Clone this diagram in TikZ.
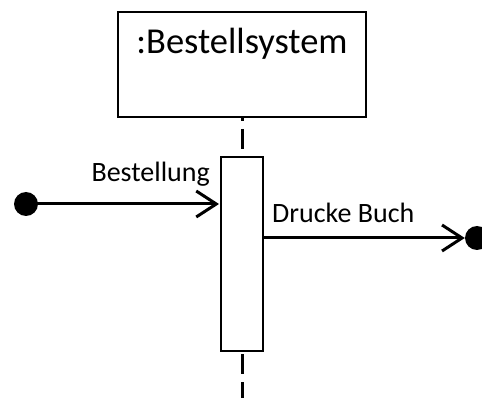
\documentclass[tikz,border=0pt]{standalone}
\usepackage{fontspec}
\setmainfont{Carlito}
\usetikzlibrary{arrows.meta}
\begin{document}
\begin{tikzpicture}[x = 1pt, y = -1pt,
                    main node/.style = {draw, rectangle, line width = 2pt, inner sep = 0pt},
                    end dot/.style = {circle, fill, inner sep = 0pt, minimum size = 24pt},
                    msg/.style = {line width = 3pt, -{Straight Barb[length = 20pt, width = 26pt, line width = 3pt]}},
                    lifeline/.style = {line width = 3pt, dash pattern = on 20pt off 8pt}]
                    \useasboundingbox (0, 0) rectangle (482, 398);
                    \node at (242, 64.5) [main node, minimum width = 248pt, minimum height = 105pt] (system) {};
                    \node at (242, 54) [anchor = base, font = \fontsize{36.5}{42}\selectfont, inner sep = 0pt] (systitle) {:Bestellsystem};
                    \node at (210, 182) [anchor = base east, font = \fontsize{28}{32}\selectfont, inner sep = 0pt] (order) {Bestellung};
                    \node at (242, 254) [main node, minimum width = 42pt, minimum height = 194pt] (activation) {};
                    \node at (26, 204) [end dot] (start) {};
                    \node at (477, 238) [end dot] (finish) {};
                    \node at (272, 223) [anchor = base west, font = \fontsize{28}{32}\selectfont, inner sep = 0pt] (print) {Drucke Buch};
                    \coordinate (lifeend) at (242, 400);

                    \draw [lifeline, dash phase = 17pt] (system.south) -- (activation.north);
                    \draw [lifeline, dash phase = -2pt] (activation.south) -- (lifeend);
                    \draw [msg, shorten >= 1pt] (start.center) -- (activation.west |- start);
                    \draw [msg] (activation.east |- finish) -- (finish.west);
                \end{tikzpicture}
\end{document}
